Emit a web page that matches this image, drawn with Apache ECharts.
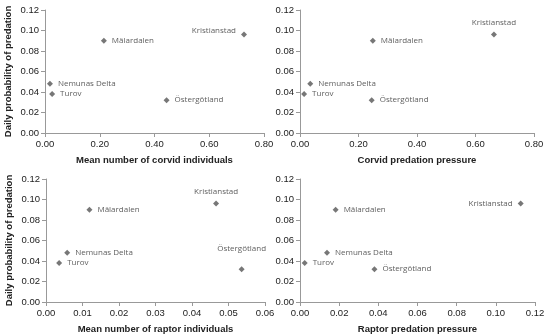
<!DOCTYPE html>
<html><head><meta charset="utf-8">
<script src="https://cdn.jsdelivr.net/npm/echarts@6/dist/echarts.min.js"></script>
<style>html,body{margin:0;padding:0;background:#fff}#c{width:550px;height:335px}</style>
</head><body><div id="c"></div>
<script>
var sites = ["Mälardalen","Kristianstad","Nemunas Delta","Turov","Östergötland"];
var predation = [0.090,0.096,0.048,0.038,0.032];
var corvidIndividuals = [0.215,0.727,0.018,0.026,0.444];
var corvidPressure = [0.249,0.663,0.035,0.014,0.245];
var raptorIndividuals = [0.0119,0.0466,0.0058,0.0036,0.0536];
var raptorPressure = [0.0182,0.1127,0.0138,0.0024,0.0380];
var yTicks = [0,0.12,0.02];
var xTitles = ["Mean number of corvid individuals","Corvid predation pressure","Mean number of raptor individuals","Raptor predation pressure"];
var xMax = [0.8,0.8,0.06,0.12];
var xInt = [0.2,0.2,0.01,0.02];
var yTitle = "Daily probability of predation";
var labelPos = [
  ["right","left","right","right","right"],
  ["right","top","right","right","right"],
  ["right","top","right","right","top"],
  ["right","left","right","right","right"]
];
var xVals = [corvidIndividuals,corvidPressure,raptorIndividuals,raptorPressure];

var grids = [
  {left:45,top:10,width:219,height:123},
  {left:300,top:10,width:234,height:123},
  {left:46,top:179,width:219,height:123},
  {left:300,top:179,width:235,height:123}
];
var axLine = {show:true,lineStyle:{color:'#999',width:1}};
var tick = {show:true,length:4,lineStyle:{color:'#999'}};
var xAxes=[],yAxes=[],series=[];
for (var i=0;i<4;i++){
  xAxes.push({gridIndex:i,type:'value',min:0,max:xMax[i],interval:xInt[i],
    axisLine:axLine,axisTick:tick,splitLine:{show:false},
    axisLabel:{fontFamily:'Liberation Sans',fontSize:9.5,color:'#222',margin:6,formatter:function(v){return v.toFixed(2);}},
    name:xTitles[i],nameLocation:'middle',nameGap:22,
    nameTextStyle:{fontFamily:'Liberation Sans',fontWeight:'bold',fontSize:9.5,color:'#222'}});
  yAxes.push({gridIndex:i,type:'value',min:yTicks[0],max:yTicks[1],interval:yTicks[2],
    axisLine:axLine,axisTick:tick,splitLine:{show:false},
    axisLabel:{fontFamily:'Liberation Sans',fontSize:9.5,color:'#222',margin:6,formatter:function(v){return v.toFixed(2);}},
    name:(i%2===0)?yTitle:'',nameLocation:'middle',nameGap:32,nameRotate:90,
    nameTextStyle:{fontFamily:'Liberation Sans',fontWeight:'bold',fontSize:9.5,color:'#222'}});
  var data=[];
  for (var j=0;j<sites.length;j++){
    var p = labelPos[i][j];
    var dist = p==='top' ? (i===2 && j===4 ? 13 : 5) : 5;
    data.push({value:[xVals[i][j],predation[j]],name:sites[j],
      label:{show:true,position:p,distance:dist,formatter:sites[j],
        offset:(p==='left'&&i===0)?[0,-4]:[0,0]}});
  }
  series.push({type:'scatter',xAxisIndex:i,yAxisIndex:i,symbol:'diamond',symbolSize:6,
    itemStyle:{color:'#555'},
    label:{fontFamily:'Open Sans',fontSize:8,color:'#333'},
    data:data,animation:false});
}
var chart = echarts.init(document.getElementById('c'),null,{renderer:'canvas'});
chart.setOption({backgroundColor:'#fff',animation:false,grid:grids,xAxis:xAxes,yAxis:yAxes,series:series});
</script></body></html>
